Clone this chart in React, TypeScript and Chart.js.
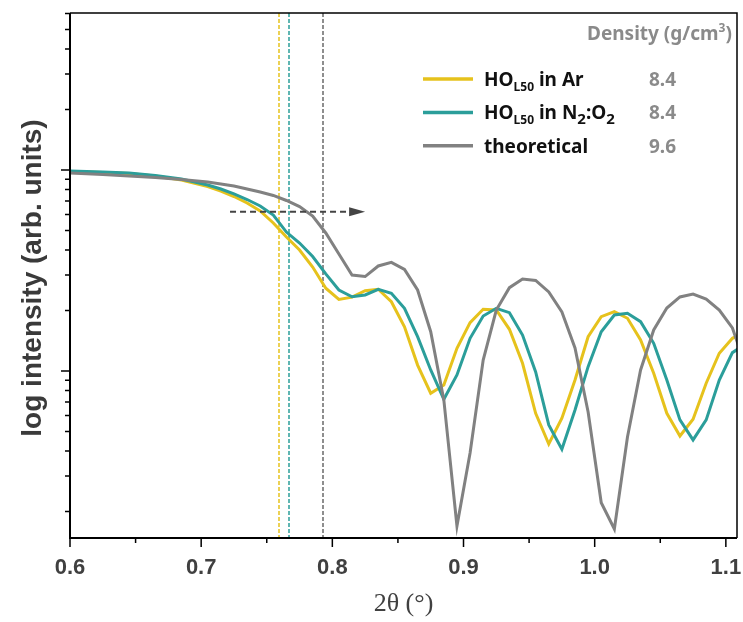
import { useEffect, useRef } from 'react';
import { Chart, registerables } from 'chart.js';

Chart.register(...registerables);

// 2θ (degrees)
const twoTheta = [
  0.6, 0.625, 0.645, 0.665, 0.685, 0.705, 0.715, 0.725, 0.735, 0.745, 0.755, 0.765, 0.775, 0.785,
  0.795, 0.805, 0.815, 0.825, 0.835, 0.845, 0.855, 0.865, 0.875, 0.885, 0.895, 0.905, 0.915, 0.925,
  0.935, 0.945, 0.955, 0.965, 0.975, 0.985, 0.995, 1.005, 1.015, 1.025, 1.035, 1.045, 1.055, 1.065,
  1.075, 1.085, 1.095, 1.105, 1.11,
];

// HO_L50 in Ar
const intensityAr = [
  0.983, 0.972, 0.961, 0.934, 0.892, 0.828, 0.786, 0.738, 0.685, 0.625, 0.545, 0.464, 0.4, 0.329,
  0.258, 0.227, 0.233, 0.251, 0.255, 0.221, 0.166, 0.107, 0.0775, 0.0852, 0.1297, 0.1739, 0.2027, 0.2011,
  0.1612, 0.1092, 0.0616, 0.0433, 0.0582, 0.0902, 0.1481, 0.1863, 0.1972, 0.1829, 0.1426, 0.0974, 0.0616, 0.0475,
  0.0575, 0.0869, 0.1225, 0.1454, 0.151,
];

// HO_L50 in N2:O2
const intensityN2O2 = [
  0.989, 0.977, 0.966, 0.939, 0.902, 0.842, 0.804, 0.76, 0.713, 0.662, 0.597, 0.491, 0.433, 0.371,
  0.304, 0.253, 0.234, 0.239, 0.255, 0.2435, 0.205, 0.1481, 0.1012, 0.0723, 0.0955, 0.1454, 0.1878, 0.205,
  0.195, 0.151, 0.0989, 0.0539, 0.0408, 0.064, 0.1051, 0.1568, 0.19, 0.1937, 0.1759, 0.1373, 0.0902, 0.0571,
  0.0454, 0.0571, 0.0902, 0.1234, 0.1297,
];

// theoretical
const intensityTheory = [
  0.966, 0.95, 0.934, 0.918, 0.897, 0.872, 0.852, 0.833, 0.804, 0.777, 0.747, 0.705, 0.658, 0.59,
  0.486, 0.382, 0.3, 0.295, 0.333, 0.347, 0.32, 0.253, 0.1568, 0.0718, 0.01694, 0.0391, 0.1134, 0.2011,
  0.2597, 0.287, 0.2821, 0.2472, 0.1966, 0.1302, 0.0625, 0.0221, 0.01637, 0.0469, 0.1012, 0.16, 0.2057, 0.2335,
  0.2416, 0.2281, 0.2011, 0.1637, 0.1317,
];

// critical angles (dotted verticals): Ar, N2:O2, theoretical
const criticalAngles = [0.759, 0.7666, 0.793];

// arrow: start / end 2θ and intensity level
const arrowX = [0.722, 0.825];
const arrowLevel = 0.62;

const xTicksMajor = [0.6, 0.7, 0.8, 0.9, 1.0, 1.1];
const xTickLabels = ['0.6', '0.7', '0.8', '0.9', '1.0', '1.1'];
const xTicksMinor = [0.65, 0.75, 0.85, 0.95, 1.05];

const seriesNames = ['HO_L50 in Ar', 'HO_L50 in N2:O2', 'theoretical'];
const densities = ['8.4', '8.4', '9.6'];

const X_MIN = 0.6;
const X_MAX = 1.1085;
const Y_MIN = 0.01476;
const Y_MAX = 6.04;

const YELLOW = '#E6C21C';
const TEAL = '#2B9E9A';
const GRAY = '#818181';
const colors = [YELLOW, TEAL, GRAY];

type Part = { t: string; size: number; dy: number };

function drawRich(ctx: CanvasRenderingContext2D, parts: Part[], x: number, y: number, family: string) {
  let cx = x;
  for (const p of parts) {
    ctx.font = `bold ${p.size}px ${family}`;
    ctx.fillText(p.t, cx, y + p.dy);
    cx += ctx.measureText(p.t).width;
  }
}

const overlayPlugin = {
  id: 'overlay',
  beforeDatasetsDraw(chart: any) {
    const { ctx, chartArea, scales } = chart;
    const xs = scales.x;
    ctx.save();
    ctx.lineWidth = 1.5;
    ctx.setLineDash([4, 2]);
    const vcols = [YELLOW, TEAL, '#6a6a6a'];
    criticalAngles.forEach((a, i) => {
      const px = Math.round(xs.getPixelForValue(a));
      ctx.strokeStyle = vcols[i];
      ctx.beginPath();
      ctx.moveTo(px, chartArea.top);
      ctx.lineTo(px, chartArea.bottom);
      ctx.stroke();
    });
    ctx.restore();
  },
  afterDatasetsDraw(chart: any) {
    const { ctx, chartArea, scales } = chart;
    const xs = scales.x;
    const ys = scales.y;
    const { left, right, top, bottom } = chartArea;
    ctx.save();

    // arrow
    const ay = ys.getPixelForValue(arrowLevel);
    const ax0 = xs.getPixelForValue(arrowX[0]);
    const ax1 = xs.getPixelForValue(arrowX[1]);
    ctx.strokeStyle = '#444444';
    ctx.fillStyle = '#444444';
    ctx.lineWidth = 2;
    ctx.setLineDash([6, 4]);
    ctx.beginPath();
    ctx.moveTo(ax0, ay);
    ctx.lineTo(ax1 - 14, ay);
    ctx.stroke();
    ctx.setLineDash([]);
    ctx.beginPath();
    ctx.moveTo(ax1, ay);
    ctx.lineTo(ax1 - 16, ay - 4.5);
    ctx.lineTo(ax1 - 16, ay + 4.5);
    ctx.closePath();
    ctx.fill();

    // frame
    ctx.strokeStyle = '#000';
    ctx.lineWidth = 1.5;
    ctx.beginPath();
    ctx.moveTo(left, top);
    ctx.lineTo(right, top);
    ctx.lineTo(right, bottom);
    ctx.stroke();
    ctx.lineWidth = 2;
    ctx.beginPath();
    ctx.moveTo(left, top);
    ctx.lineTo(left, bottom);
    ctx.lineTo(right, bottom);
    ctx.stroke();

    // x ticks
    ctx.lineWidth = 1.5;
    ctx.beginPath();
    xTicksMajor.forEach((v) => {
      const px = xs.getPixelForValue(v);
      ctx.moveTo(px, bottom);
      ctx.lineTo(px, bottom + 9);
    });
    xTicksMinor.forEach((v) => {
      const px = xs.getPixelForValue(v);
      ctx.moveTo(px, bottom);
      ctx.lineTo(px, bottom + 5);
    });
    // y ticks (log)
    for (let d = -2; d <= 0; d++) {
      for (let k = 1; k <= 9; k++) {
        const v = k * Math.pow(10, d);
        if (v < Y_MIN || v > Y_MAX) continue;
        const py = ys.getPixelForValue(v);
        ctx.moveTo(left, py);
        ctx.lineTo(left - (k === 1 ? 9 : 5), py);
      }
    }
    for (let k = 2; k <= 9; k++) {
      const v = k;
      if (v > Y_MAX) continue;
      const py = ys.getPixelForValue(v);
      ctx.moveTo(left, py);
      ctx.lineTo(left - 5, py);
    }
    ctx.stroke();

    // x tick labels
    ctx.fillStyle = '#404040';
    ctx.font = 'bold 22px "Liberation Sans", Arial, sans-serif';
    ctx.textAlign = 'center';
    ctx.textBaseline = 'middle';
    xTicksMajor.forEach((v, i) => {
      ctx.fillText(xTickLabels[i], xs.getPixelForValue(v), 568);
    });

    // x title
    ctx.font = '26px "Liberation Serif", "Times New Roman", serif';
    ctx.fillText('2θ (°)', (left + right) / 2, 604);

    // y title
    ctx.save();
    ctx.translate(33, 278);
    ctx.rotate(-Math.PI / 2);
    ctx.font = 'bold 28px "Liberation Sans", Arial, sans-serif';
    ctx.fillStyle = '#3a3a3a';
    ctx.fillText('log intensity (arb. units)', 0, 0);
    ctx.restore();

    // legend
    const fam = '"Noto Sans", sans-serif';
    ctx.textAlign = 'left';
    ctx.textBaseline = 'alphabetic';
    ctx.fillStyle = '#8a8a8a';
    drawRich(
      ctx,
      [
        { t: 'Density (g/cm', size: 19, dy: 0 },
        { t: '3', size: 12, dy: -8 },
        { t: ')', size: 19, dy: 0 },
      ],
      587,
      39.5,
      fam
    );
    const baselines = [86, 119.4, 152.7];
    const labelParts: Part[][] = [
      [
        { t: 'HO', size: 19, dy: 0 },
        { t: 'L50', size: 12, dy: 5 },
        { t: ' in Ar', size: 19, dy: 0 },
      ],
      [
        { t: 'HO', size: 19, dy: 0 },
        { t: 'L50', size: 12, dy: 5 },
        { t: ' in N', size: 19, dy: 0 },
        { t: '2', size: 15, dy: 5 },
        { t: ':O', size: 19, dy: 0 },
        { t: '2', size: 15, dy: 5 },
      ],
      [{ t: 'theoretical', size: 19, dy: 0 }],
    ];
    baselines.forEach((b, i) => {
      ctx.strokeStyle = colors[i];
      ctx.lineWidth = 3.5;
      ctx.beginPath();
      ctx.moveTo(423, b - 7);
      ctx.lineTo(473, b - 7);
      ctx.stroke();
      ctx.fillStyle = '#111111';
      drawRich(ctx, labelParts[i], 484, b, fam);
      ctx.fillStyle = '#8a8a8a';
      ctx.font = `bold 19px ${fam}`;
      ctx.fillText(densities[i], 649, b);
    });

    ctx.restore();
  },
};

export default function App() {
  const canvasRef = useRef<HTMLCanvasElement | null>(null);

  useEffect(() => {
    if (!canvasRef.current) return;
    const mk = (arr: number[]) => twoTheta.map((x, i) => ({ x, y: arr[i] }));
    const chart = new Chart(canvasRef.current, {
      type: 'line',
      data: {
        datasets: [
          { label: seriesNames[0], data: mk(intensityAr), borderColor: YELLOW, order: 2 },
          { label: seriesNames[1], data: mk(intensityN2O2), borderColor: TEAL, order: 1 },
          { label: seriesNames[2], data: mk(intensityTheory), borderColor: GRAY, order: 0 },
        ].map((d) => ({ ...d, borderWidth: 3, pointRadius: 0, tension: 0, fill: false, borderJoinStyle: 'miter' as const })),
      },
      options: {
        animation: false,
        responsive: false,
        devicePixelRatio: 1,
        layout: { padding: { left: 70, top: 13, right: 6, bottom: 84 } },
        plugins: { legend: { display: false }, tooltip: { enabled: false } },
        scales: {
          x: { type: 'linear', min: X_MIN, max: X_MAX, display: false },
          y: { type: 'logarithmic', min: Y_MIN, max: Y_MAX, display: false },
        },
      },
      plugins: [overlayPlugin],
    });
    return () => chart.destroy();
  }, []);

  return (
    <div style={{ position: 'fixed', left: 0, top: 0, width: 743, height: 622, background: '#fff' }}>
      <canvas ref={canvasRef} width={743} height={622} />
    </div>
  );
}
